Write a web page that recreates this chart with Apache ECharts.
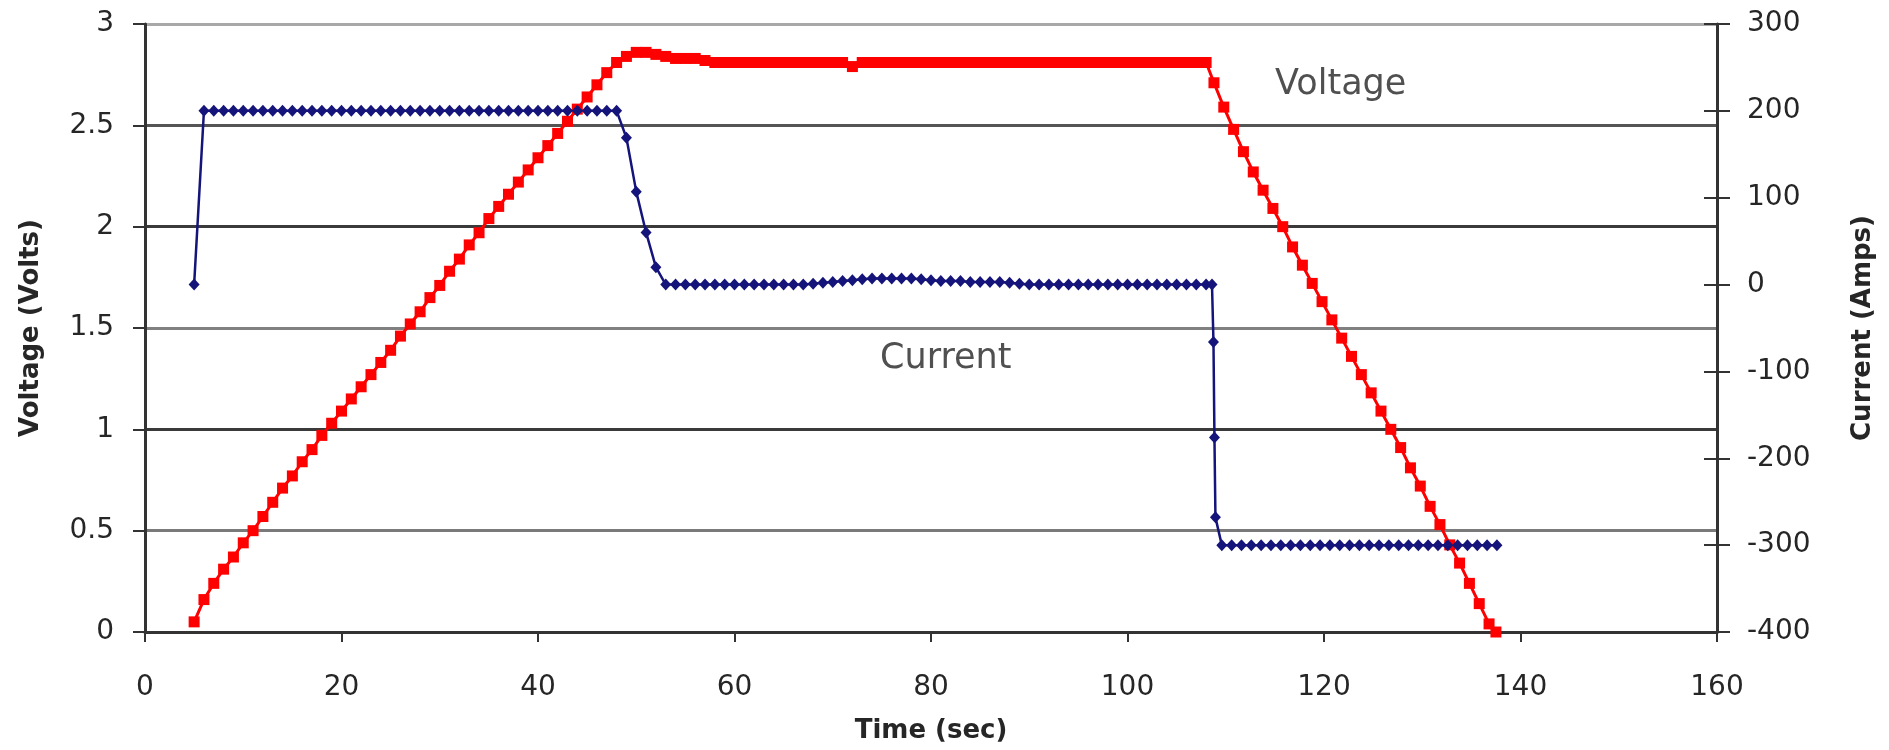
<!DOCTYPE html>
<html>
<head>
<meta charset="utf-8">
<script src="https://cdn.jsdelivr.net/npm/echarts@6/dist/echarts.min.js"></script>
<style>
  html, body { margin: 0; padding: 0; background: #fff; }
  #chart { width: 1889px; height: 750px; }
</style>
</head>
<body>
<div id="chart"></div>
<script>
// axis ranges [min, max, step]
var timeAxis = [0, 160, 20];
var voltAxis = [0, 3, 0.5];
var ampAxis = [-400, 300, 100];

// common sample times 5..108 s
var time = [
    5, 6, 7, 8, 9, 10, 11, 12, 13, 14, 15, 16, 17, 18, 19, 20, 21, 22, 23, 24,
    25, 26, 27, 28, 29, 30, 31, 32, 33, 34, 35, 36, 37, 38, 39, 40, 41, 42, 43, 44,
    45, 46, 47, 48, 49, 50, 51, 52, 53, 54, 55, 56, 57, 58, 59, 60, 61, 62, 63, 64,
    65, 66, 67, 68, 69, 70, 71, 72, 73, 74, 75, 76, 77, 78, 79, 80, 81, 82, 83, 84,
    85, 86, 87, 88, 89, 90, 91, 92, 93, 94, 95, 96, 97, 98, 99, 100, 101, 102, 103, 104,
    105, 106, 107, 108
];

// voltage (Volts)
var voltTime = time.concat([
    108.8, 109.8, 110.8, 111.8, 112.8, 113.8, 114.8, 115.8, 116.8, 117.8,
    118.8, 119.8, 120.8, 121.8, 122.8, 123.8, 124.8, 125.8, 126.8, 127.8,
    128.8, 129.8, 130.8, 131.8, 132.8, 133.8, 134.8, 135.8, 136.8, 137.5
]);
var voltage = [
    0.05, 0.16, 0.24, 0.31, 0.37, 0.44, 0.50, 0.57, 0.64, 0.71, 0.77, 0.84, 0.90, 0.97, 1.03, 1.09, 1.15, 1.21, 1.27, 1.33,
    1.39, 1.46, 1.52, 1.58, 1.65, 1.71, 1.78, 1.84, 1.91, 1.97, 2.04, 2.10, 2.16, 2.22, 2.28, 2.34, 2.40, 2.46, 2.52, 2.58,
    2.64, 2.70, 2.76, 2.81, 2.84, 2.86, 2.86, 2.85, 2.84, 2.83, 2.83, 2.83, 2.82, 2.81, 2.81, 2.81, 2.81, 2.81, 2.81, 2.81,
    2.81, 2.81, 2.81, 2.81, 2.81, 2.81, 2.81, 2.79, 2.81, 2.81, 2.81, 2.81, 2.81, 2.81, 2.81, 2.81, 2.81, 2.81, 2.81, 2.81,
    2.81, 2.81, 2.81, 2.81, 2.81, 2.81, 2.81, 2.81, 2.81, 2.81, 2.81, 2.81, 2.81, 2.81, 2.81, 2.81, 2.81, 2.81, 2.81, 2.81,
    2.81, 2.81, 2.81, 2.81,
    2.71, 2.59, 2.48, 2.37, 2.27, 2.18, 2.09, 2.00, 1.90, 1.81,
    1.72, 1.63, 1.54, 1.45, 1.36, 1.27, 1.18, 1.09, 1.00, 0.91,
    0.81, 0.72, 0.62, 0.53, 0.43, 0.34, 0.24, 0.14, 0.04, 0.00
];

// current (Amps)
var currTime = time.concat([
    108.6, 108.75, 108.85, 108.95,
    109.6, 110.6, 111.6, 112.6, 113.6, 114.6, 115.6, 116.6, 117.6, 118.6,
    119.6, 120.6, 121.6, 122.6, 123.6, 124.6, 125.6, 126.6, 127.6, 128.6,
    129.6, 130.6, 131.6, 132.6, 133.6, 134.6, 135.6, 136.6, 137.6
]);
var current = [
    0, 200, 200, 200, 200, 200, 200, 200, 200, 200, 200, 200, 200, 200, 200, 200, 200, 200, 200, 200,
    200, 200, 200, 200, 200, 200, 200, 200, 200, 200, 200, 200, 200, 200, 200, 200, 200, 200, 200, 200,
    200, 200, 200, 200, 169, 107, 60, 20, 0, 0, 0, 0, 0, 0, 0, 0, 0, 0, 0, 0,
    0, 0, 0, 1, 2, 3, 4, 5, 6, 7, 7, 7, 7, 7, 6, 5, 4, 4, 4, 3,
    3, 3, 3, 2, 1, 0, 0, 0, 0, 0, 0, 0, 0, 0, 0, 0, 0, 0, 0, 0,
    0, 0, 0, 0,
    0, -66, -176, -268,
    -300, -300, -300, -300, -300, -300, -300, -300, -300, -300,
    -300, -300, -300, -300, -300, -300, -300, -300, -300, -300,
    -300, -300, -300, -300, -300, -300, -300, -300, -300
];

function zip(xs, ys) {
    return xs.map(function (x, i) { return [x, ys[i]]; });
}

var labelFont = 'DejaVu Sans';
var tickLabel = { fontSize: 28, color: '#262626', fontFamily: labelFont };
var titleText = { fontSize: 26, fontWeight: 'bold', color: '#262626', fontFamily: labelFont };
var axisDark = { color: '#333', width: 3 };

var option = {
    animation: false,
    backgroundColor: '#fff',
    grid: { left: 145, right: 172, top: 24, bottom: 118 },
    xAxis: {
        type: 'value',
        min: timeAxis[0], max: timeAxis[1], interval: timeAxis[2],
        name: 'Time (sec)', nameLocation: 'middle', nameGap: 86,
        nameTextStyle: titleText,
        axisLine: { lineStyle: axisDark },
        axisTick: { length: 10, lineStyle: { color: '#333', width: 2 } },
        axisLabel: Object.assign({ margin: 42 }, tickLabel),
        splitLine: { show: false }
    },
    yAxis: [{
        type: 'value',
        position: 'left',
        min: voltAxis[0], max: voltAxis[1], interval: voltAxis[2],
        name: 'Voltage (Volts)', nameLocation: 'middle', nameGap: 101, nameRotate: 90,
        nameTextStyle: titleText,
        axisLine: { show: true, lineStyle: axisDark },
        axisTick: { show: true, length: 12, lineStyle: { color: '#333', width: 2 } },
        axisLabel: Object.assign({ margin: 31 }, tickLabel),
        splitLine: {
            show: true,
            lineStyle: {
                width: 3,
                color: ['#3a3a3a', '#7a7a7a', '#3a3a3a', '#808080', '#3a3a3a', '#555', '#a8a8a8']
            }
        }
    }, {
        type: 'value',
        position: 'right',
        min: ampAxis[0], max: ampAxis[1], interval: ampAxis[2],
        name: 'Current (Amps)', nameLocation: 'middle', nameGap: 133, nameRotate: 90,
        nameTextStyle: titleText,
        axisLine: { show: true, lineStyle: axisDark },
        axisTick: { show: true, length: 13, lineStyle: { color: '#333', width: 2 } },
        axisLabel: Object.assign({ margin: 30 }, tickLabel),
        splitLine: { show: false }
    }, {
        // inner half of the crossing ticks on the right axis
        type: 'value',
        position: 'right',
        min: ampAxis[0], max: ampAxis[1], interval: ampAxis[2],
        axisLine: { show: false },
        axisTick: { show: true, inside: true, length: 13, lineStyle: { color: '#333', width: 2 } },
        axisLabel: { show: false },
        splitLine: { show: false }
    }],
    series: [{
        name: 'Voltage',
        type: 'line',
        yAxisIndex: 0,
        data: zip(voltTime, voltage),
        symbol: 'rect',
        symbolSize: 11,
        itemStyle: { color: '#ff0000' },
        lineStyle: { color: '#ff0000', width: 3 },
        markPoint: {
            symbol: 'circle',
            symbolSize: 1,
            itemStyle: { color: 'rgba(0,0,0,0)' },
            label: {
                show: true, position: 'inside', formatter: 'Voltage',
                fontSize: 35, color: '#505050', fontFamily: labelFont
            },
            data: [{ coord: [121.7, 2.70] }]
        }
    }, {
        name: 'Current',
        type: 'line',
        yAxisIndex: 1,
        data: zip(currTime, current),
        symbol: 'diamond',
        symbolSize: [11, 12],
        itemStyle: { color: '#14147a' },
        lineStyle: { color: '#14147a', width: 2.5 },
        markPoint: {
            symbol: 'circle',
            symbolSize: 1,
            itemStyle: { color: 'rgba(0,0,0,0)' },
            label: {
                show: true, position: 'inside', formatter: 'Current',
                fontSize: 35, color: '#505050', fontFamily: labelFont
            },
            data: [{ coord: [81.5, -86] }]
        }
    }]
};

var myChart = echarts.init(document.getElementById('chart'));
myChart.setOption(option);
</script>
</body>
</html>
